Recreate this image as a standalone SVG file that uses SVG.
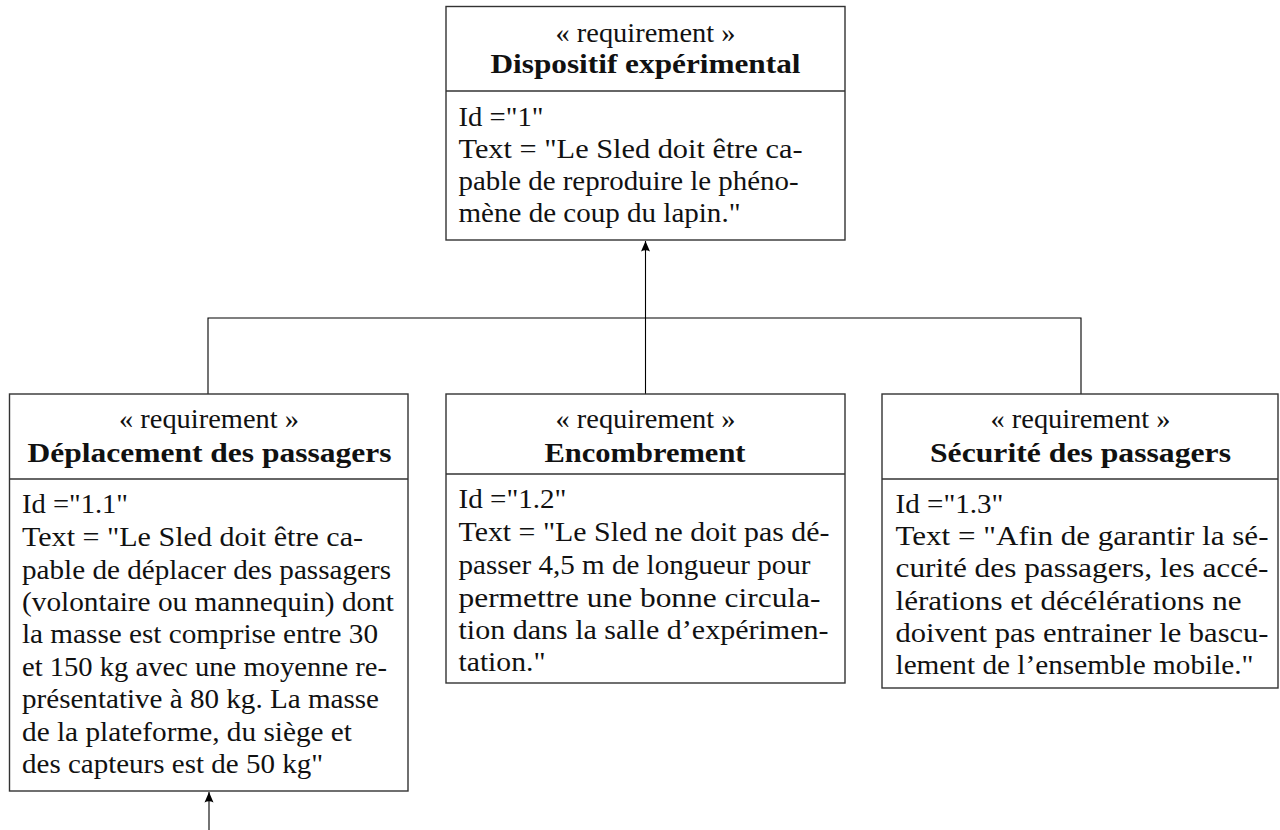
<svg xmlns="http://www.w3.org/2000/svg" width="1280" height="830" viewBox="0 0 1280 830">
<style>
  .box { fill: #ffffff; stroke: #333333; stroke-width: 1.4; }
  .div { stroke: #333333; stroke-width: 1.4; }
  .st { font-family: "Liberation Serif", "Times New Roman", serif; font-size: 27px; fill: #111111; text-anchor: middle; }
  .ti { font-family: "Liberation Serif", "Times New Roman", serif; font-size: 27px; font-weight: bold; fill: #111111; text-anchor: middle; }
  .bd { font-family: "Liberation Serif", "Times New Roman", serif; font-size: 27px; fill: #111111; }
  .conn { fill: none; stroke: #000000; stroke-width: 1.1; }
</style>
<defs>
  <marker id="arr" markerUnits="userSpaceOnUse" markerWidth="12" markerHeight="12" viewBox="0 0 12 12" refX="11" refY="6" orient="auto">
    <path d="M0.5,1.5 Q3,6 0.5,10.5 L11,6 Z" fill="#000000"/>
  </marker>
</defs>

<g id="connectors">
  <path class="conn" d="M645.5,394 V241" marker-end="url(#arr)"/>
  <path class="conn" d="M208,394 V318 H1081 V394"/>
  <path class="conn" d="M209,830 V792" marker-end="url(#arr)"/>
</g>

<g id="node-1">
  <rect class="box" x="446" y="6.5" width="399" height="233.5"/>
  <line class="div" x1="446" y1="91" x2="845" y2="91"/>
  <text class="st" x="645.5" y="41.5" textLength="180" lengthAdjust="spacingAndGlyphs">« requirement »</text>
  <text class="ti" x="645.5" y="73" textLength="310" lengthAdjust="spacingAndGlyphs">Dispositif expérimental</text>
  <text class="bd" x="458.5" y="125.5" textLength="85" lengthAdjust="spacingAndGlyphs">Id ="1"</text>
  <text class="bd" x="458.5" y="158" textLength="344" lengthAdjust="spacingAndGlyphs">Text = "Le Sled doit être ca-</text>
  <text class="bd" x="458.5" y="190" textLength="340" lengthAdjust="spacingAndGlyphs">pable de reproduire le phéno-</text>
  <text class="bd" x="458.5" y="222" textLength="282" lengthAdjust="spacingAndGlyphs">mène de coup du lapin."</text>
</g>

<g id="node-1-1">
  <rect class="box" x="9.5" y="394" width="398.5" height="397"/>
  <line class="div" x1="9.5" y1="479" x2="408" y2="479"/>
  <text class="st" x="209" y="428" textLength="180" lengthAdjust="spacingAndGlyphs">« requirement »</text>
  <text class="ti" x="209.5" y="462" textLength="364" lengthAdjust="spacingAndGlyphs">Déplacement des passagers</text>
  <text class="bd" x="22" y="513" textLength="106" lengthAdjust="spacingAndGlyphs">Id ="1.1"</text>
  <text class="bd" x="22" y="546" textLength="341" lengthAdjust="spacingAndGlyphs">Text = "Le Sled doit être ca-</text>
  <text class="bd" x="22" y="578.5" textLength="369" lengthAdjust="spacingAndGlyphs">pable de déplacer des passagers</text>
  <text class="bd" x="22" y="611" textLength="372" lengthAdjust="spacingAndGlyphs">(volontaire ou mannequin) dont</text>
  <text class="bd" x="22" y="643" textLength="356" lengthAdjust="spacingAndGlyphs">la masse est comprise entre 30</text>
  <text class="bd" x="22" y="676" textLength="365" lengthAdjust="spacingAndGlyphs">et 150 kg avec une moyenne re-</text>
  <text class="bd" x="22" y="708" textLength="357" lengthAdjust="spacingAndGlyphs">présentative à 80 kg. La masse</text>
  <text class="bd" x="22" y="741" textLength="330" lengthAdjust="spacingAndGlyphs">de la plateforme, du siège et</text>
  <text class="bd" x="22" y="773" textLength="301" lengthAdjust="spacingAndGlyphs">des capteurs est de 50 kg"</text>
</g>

<g id="node-1-2">
  <rect class="box" x="446" y="394" width="399" height="289"/>
  <line class="div" x1="446" y1="474" x2="845" y2="474"/>
  <text class="st" x="645.5" y="428" textLength="180" lengthAdjust="spacingAndGlyphs">« requirement »</text>
  <text class="ti" x="645" y="462" textLength="201" lengthAdjust="spacingAndGlyphs">Encombrement</text>
  <text class="bd" x="458.5" y="508" textLength="108" lengthAdjust="spacingAndGlyphs">Id ="1.2"</text>
  <text class="bd" x="458.5" y="541" textLength="371" lengthAdjust="spacingAndGlyphs">Text = "Le Sled ne doit pas dé-</text>
  <text class="bd" x="458.5" y="574" textLength="352" lengthAdjust="spacingAndGlyphs">passer 4,5 m de longueur pour</text>
  <text class="bd" x="458.5" y="606.5" textLength="362" lengthAdjust="spacingAndGlyphs">permettre une bonne circula-</text>
  <text class="bd" x="458.5" y="639" textLength="370" lengthAdjust="spacingAndGlyphs">tion dans la salle d’expérimen-</text>
  <text class="bd" x="458.5" y="671" textLength="87" lengthAdjust="spacingAndGlyphs">tation."</text>
</g>

<g id="node-1-3">
  <rect class="box" x="882" y="394" width="396" height="294"/>
  <line class="div" x1="882" y1="479" x2="1278" y2="479"/>
  <text class="st" x="1080.5" y="428" textLength="180" lengthAdjust="spacingAndGlyphs">« requirement »</text>
  <text class="ti" x="1080.5" y="462" textLength="301" lengthAdjust="spacingAndGlyphs">Sécurité des passagers</text>
  <text class="bd" x="895.5" y="513" textLength="108" lengthAdjust="spacingAndGlyphs">Id ="1.3"</text>
  <text class="bd" x="895.5" y="545" textLength="373" lengthAdjust="spacingAndGlyphs">Text = "Afin de garantir la sé-</text>
  <text class="bd" x="895.5" y="577" textLength="373" lengthAdjust="spacingAndGlyphs">curité des passagers, les accé-</text>
  <text class="bd" x="895.5" y="609.5" textLength="346" lengthAdjust="spacingAndGlyphs">lérations et décélérations ne</text>
  <text class="bd" x="895.5" y="642" textLength="373" lengthAdjust="spacingAndGlyphs">doivent pas entrainer le bascu-</text>
  <text class="bd" x="895.5" y="674" textLength="358" lengthAdjust="spacingAndGlyphs">lement de l’ensemble mobile."</text>
</g>
</svg>
